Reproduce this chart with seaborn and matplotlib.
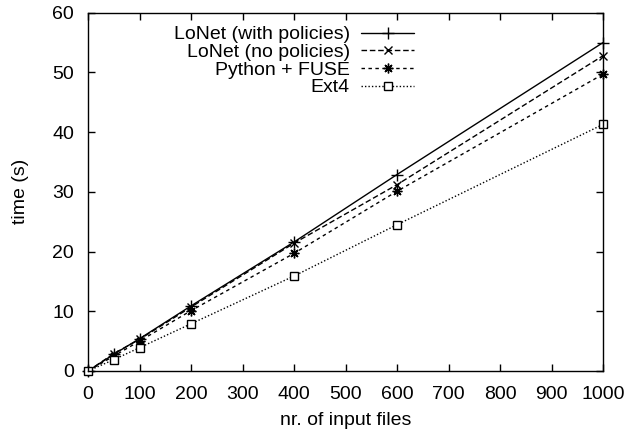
import pandas as pd
import matplotlib
matplotlib.use("Agg")
import matplotlib.pyplot as plt
import seaborn as sns

# values
files = [0, 50, 100, 200, 400, 600, 1000]
lonet_policies = [0, 2.8, 5.4, 10.9, 21.6, 32.9, 55.0]
lonet_nopolicies = [0, 2.9, 5.3, 10.7, 21.4, 31.2, 52.8]
python_fuse = [0, 2.5, 5.0, 10.1, 19.7, 30.1, 49.7]
ext4 = [0, 1.9, 3.9, 7.9, 15.9, 24.5, 41.3]

series = {
    "LoNet (with policies)": lonet_policies,
    "LoNet (no policies)": lonet_nopolicies,
    "Python + FUSE": python_fuse,
    "Ext4": ext4,
}
styles = {
    "LoNet (with policies)": dict(ls="-", marker="+", ms=8),
    "LoNet (no policies)": dict(ls=(0, (4, 2)), marker="x", ms=6),
    "Python + FUSE": dict(ls=(0, (2.5, 2.5)), marker=(8, 2, 0), ms=7),
    "Ext4": dict(ls=(0, (1, 1.5)), marker="s", ms=6, mfc="white"),
}

sns.set_style("ticks")
plt.rcParams["font.family"] = ["Liberation Sans", "DejaVu Sans"]
plt.rcParams["font.size"] = 14
plt.rcParams["text.color"] = "black"
plt.rcParams["axes.labelcolor"] = "black"
plt.rcParams["xtick.color"] = "black"
plt.rcParams["ytick.color"] = "black"

fig = plt.figure(figsize=(6.3, 4.34), dpi=100)
ax = fig.add_axes([0.1397, 0.1452, 0.8175, 0.8255])

for name, vals in series.items():
    df = pd.DataFrame({"files": files, "time": vals})
    sns.lineplot(data=df, x="files", y="time", ax=ax, color="black", lw=1,
                 mew=1, mec="black", label=name, clip_on=False, **styles[name])

ax.set_xlim(0, 1000)
ax.set_ylim(0, 60)
ax.set_xticks(range(0, 1001, 100))
ax.set_yticks(range(0, 61, 10))
ax.tick_params(direction="in", length=5, top=True, right=True, labelsize=14,
               color="black", width=1)
ax.tick_params(axis="x", pad=11)
ax.tick_params(axis="y", pad=10)
for s in ax.spines.values():
    s.set_visible(True)
    s.set_linewidth(1)
    s.set_color("black")
ax.set_xlabel("nr. of input files", fontsize=14, labelpad=6)
ax.set_ylabel("time (s)", fontsize=14, labelpad=17)

ax.legend(loc="upper right", bbox_to_anchor=(0.648, 0.985), frameon=False,
          markerfirst=False, handlelength=2.7, fontsize=14, labelspacing=0.0,
          borderaxespad=0, handletextpad=0.6)
leg = ax.get_legend()
leg._legend_box.align = "right"

fig.savefig("out.png", dpi=100)
